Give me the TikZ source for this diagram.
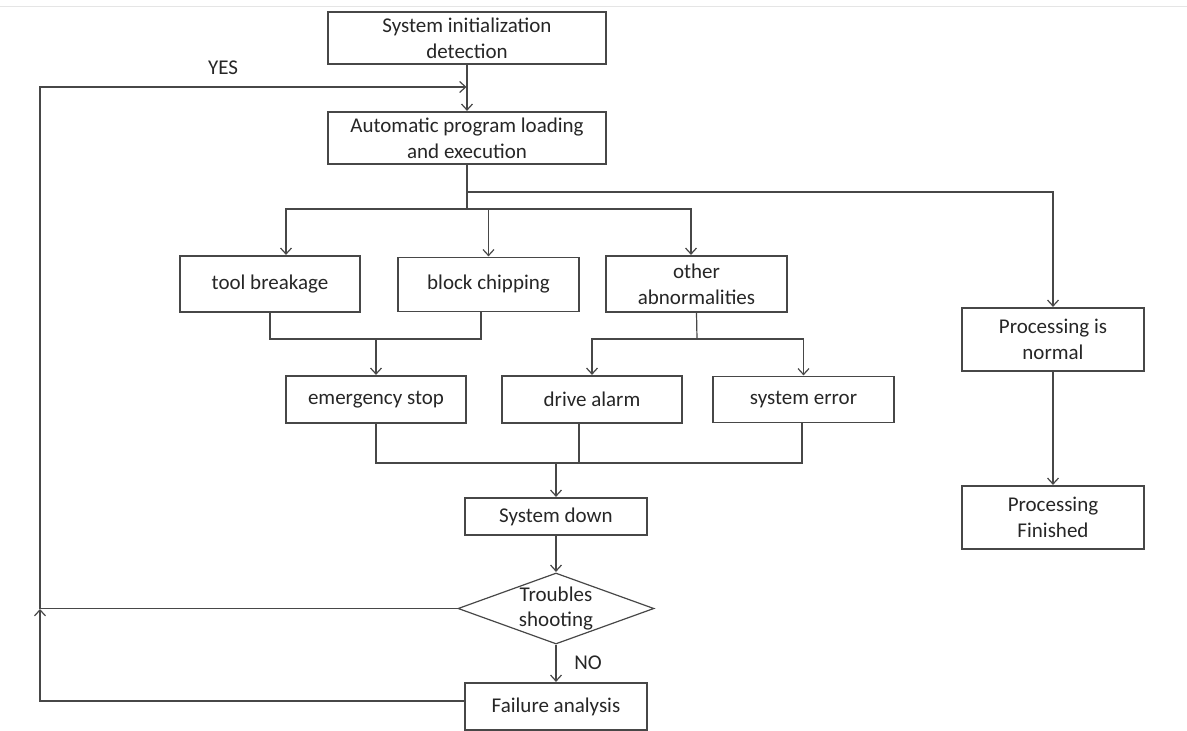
\documentclass[tikz,border=0pt]{standalone}
\usepackage{fontspec}
\setmainfont{Carlito}
\usetikzlibrary{shapes.geometric,arrows.meta}

\begin{document}
\begin{tikzpicture}[x=1pt,y=-1pt,line width=1.2pt,draw=black!72,text=black!85,
    font=\fontsize{21}{25.6}\selectfont,
    >={Straight Barb[length=6pt,width=11pt]},
    arr/.style={->,shorten >=0.5pt},
    main node/.style={rectangle,draw,align=center,inner sep=2pt},
    decision node/.style={diamond,draw,inner sep=0pt,minimum width=196pt,minimum height=71pt}]

    \useasboundingbox (0,0) rectangle (1187,731);
    \draw[black!10,line width=1pt] (0,6) -- (1187,6);

    \node[main node, minimum width=278pt, minimum height=52pt] (init) at (467,38) {System initialization\\detection};
    \node[main node, minimum width=278pt, minimum height=52pt] (auto) at (467,138) {Automatic program loading\\and execution};

    \node[main node, minimum width=180pt, minimum height=56pt] (tool) at (270,284) {tool breakage};
    \node[main node, minimum width=181pt, minimum height=54pt] (block) at (488.5,284.5) {block chipping};
    \node[main node, minimum width=181pt, minimum height=56pt] (other) at (696.5,284) {other\\abnormalities};

    \node[main node, minimum width=180pt, minimum height=47pt] (emerg) at (376,399.5) {emergency stop};
    \node[main node, minimum width=180pt, minimum height=47pt] (drive) at (592,399.5) {drive alarm};
    \node[main node, minimum width=181pt, minimum height=46pt] (syserr) at (803.5,399.5) {system error};

    \node[main node, minimum width=182pt, minimum height=37pt] (down) at (556,516.5) {System down};
    \node[decision node, label={[align=center]center:Troubles\\shooting}] (trouble) at (556,608.5) {};
    \node[main node, minimum width=182pt, minimum height=47pt] (failure) at (556,706.5) {Failure analysis};

    \node[main node, minimum width=182pt, minimum height=63pt] (normal) at (1053,339.5) {Processing is\\normal};
    \node[main node, minimum width=182pt, minimum height=63pt] (finished) at (1053,517.5) {Processing\\Finished};

    \node (yes) at (223,68) {YES};
    \node (no) at (588,663) {NO};

    \coordinate (fork) at (467,209);
    \coordinate (side) at (467,192);
    \coordinate (j1) at (376,339);
    \coordinate (j2) at (697,339);
    \coordinate (j3) at (556,463);
    \coordinate (lp) at (40,608.5);
    \coordinate (lt) at (40,87);

    \draw[arr] (init) -- (auto);
    \draw (auto) -- (fork);
    \draw[arr] (side) -| (normal.north);
    \draw[arr] (fork) -| ([xshift=16pt]tool.north);
    \draw[arr] (fork -| block.north) -- (block.north);
    \draw[arr] (fork) -| ([xshift=-5.5pt]other.north);

    \draw (tool.south) |- (j1) -| ([xshift=-7.5pt]block.south);
    \draw[arr] (j1) -- (emerg.north);
    \draw (other.south) -- (j2);
    \draw[arr] (j2) -| (drive.north);
    \draw[arr] (j2) -| (syserr.north);

    \draw (emerg.south) |- (j3) -| ([xshift=-1.5pt]syserr.south);
    \draw ([xshift=-13pt]drive.south) -- ([xshift=-13pt]drive.south |- j3);
    \draw[arr] (j3) -- (down.north);
    \draw[arr] (down) -- (trouble);
    \draw[arr] (trouble) -- (failure);
    \draw[arr] (normal) -- (finished);

    \draw[arr] (trouble.west) -| (lt) -- (init.south |- lt);
    \draw[arr] ([yshift=5.5pt]failure.west) -| (lp);
\end{tikzpicture}
\end{document}
